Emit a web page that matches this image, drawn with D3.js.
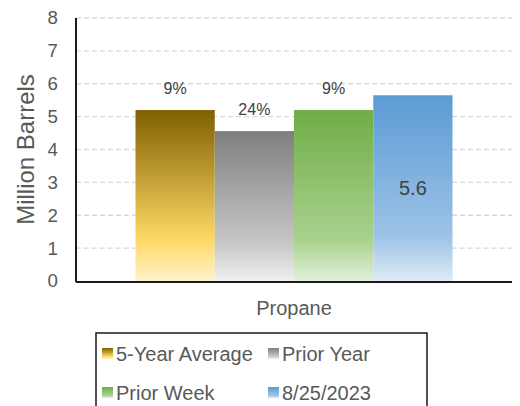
<!DOCTYPE html>
<html>
<head>
<meta charset="utf-8">
<script src="https://cdn.jsdelivr.net/npm/d3@7"></script>
<style>
  html, body { margin: 0; padding: 0; background: #fff; }
  svg { display: block; font-family: "Liberation Sans", Arial, sans-serif; }
</style>
</head>
<body>
<svg id="chart" width="520" height="406"></svg>
<script>
const categories = ["Propane"];
const seriesNames = ["5-Year Average", "Prior Year", "Prior Week", "8/25/2023"];
const seriesValues = [5.2, 4.56, 5.2, 5.65];
const barLabels = ["9%", "24%", "9%", "5.6"];
const yTicks = [0, 1, 2, 3, 4, 5, 6, 7, 8];
const yTitle = "Million Barrels";

const gradients = [
  [["0%", "#7F6000"], ["76%", "#FFD966"], ["100%", "#FFF2CC"]],
  [["0%", "#7F7F7F"], ["76%", "#C8C8C8"], ["100%", "#F0F0F0"]],
  [["0%", "#70AD47"], ["76%", "#A9D18E"], ["100%", "#E2F0D9"]],
  [["0%", "#5B9BD5"], ["76%", "#9DC3E6"], ["100%", "#DEEBF7"]]
];

const svg = d3.select("#chart");
const plotLeft = 76, plotRight = 512, plotTop = 18, plotBottom = 281;

const defs = svg.append("defs");
gradients.forEach((stops, i) => {
  const g = defs.append("linearGradient").attr("id", "grad" + i)
    .attr("x1", 0).attr("y1", 0).attr("x2", 0).attr("y2", 1);
  stops.forEach(s => g.append("stop").attr("offset", s[0]).attr("stop-color", s[1]));
});

const y = d3.scaleLinear().domain([0, 8]).range([plotBottom, plotTop]);
const x0 = d3.scaleBand().domain(categories).range([plotLeft, plotRight]).paddingInner(0).paddingOuter(0.1877);
const x1 = d3.scaleBand().domain(seriesNames).range([0, x0.bandwidth()]).padding(0);

// gridlines
svg.append("g").selectAll("line").data(yTicks.filter(d => d > 0)).join("line")
  .attr("x1", plotLeft).attr("x2", plotRight)
  .attr("y1", d => y(d)).attr("y2", d => y(d))
  .attr("stroke", "#D9D9D9").attr("stroke-width", 1.3).attr("stroke-dasharray", "5,3");

// y axis labels
const yAxis = d3.axisLeft(y).tickValues(yTicks).tickSize(0).tickPadding(18).tickFormat(d3.format("d"));
const ya = svg.append("g").attr("transform", `translate(${plotLeft},0)`).call(yAxis);
ya.select(".domain").remove();
ya.selectAll("text").attr("font-size", "18.7px").attr("fill", "#595959")
  .attr("font-family", "Liberation Sans, Arial, sans-serif");

// bars
const grp = svg.append("g").selectAll("g").data(categories).join("g")
  .attr("transform", d => `translate(${x0(d)},0)`);
grp.selectAll("rect").data(seriesNames.map((s, i) => ({s, i, v: seriesValues[i]}))).join("rect")
  .attr("x", d => x1(d.s)).attr("width", x1.bandwidth())
  .attr("y", d => y(d.v)).attr("height", d => plotBottom - y(d.v))
  .attr("fill", d => `url(#grad${d.i})`);

// data labels
grp.selectAll("text").data(seriesNames.map((s, i) => ({s, i, v: seriesValues[i], t: barLabels[i]}))).join("text")
  .attr("x", d => x1(d.s) + x1.bandwidth() / 2)
  .attr("y", d => d.i === 3 ? (y(d.v) + plotBottom) / 2 + 7 : y(d.v) - 16)
  .attr("text-anchor", "middle")
  .attr("font-size", d => d.i === 3 ? "20px" : "16px")
  .attr("fill", "#404040")
  .text(d => d.t);

// axis lines
svg.append("line").attr("x1", plotLeft).attr("x2", plotLeft).attr("y1", plotTop).attr("y2", plotBottom + 1)
  .attr("stroke", "#1a1a1a").attr("stroke-width", 2);
svg.append("line").attr("x1", plotLeft).attr("x2", plotRight).attr("y1", plotBottom + 1).attr("y2", plotBottom + 1)
  .attr("stroke", "#1a1a1a").attr("stroke-width", 2);

// category label
svg.append("g").selectAll("text").data(categories).join("text")
  .attr("x", d => x0(d) + x0.bandwidth() / 2).attr("y", 315)
  .attr("text-anchor", "middle").attr("font-size", "20px").attr("fill", "#595959")
  .text(d => d);

// y title
svg.append("text").attr("transform", `translate(34,${(plotTop + plotBottom) / 2}) rotate(-90)`)
  .attr("text-anchor", "middle").attr("font-size", "24px").attr("fill", "#595959")
  .text(yTitle);

// legend
svg.append("rect").attr("x", 96).attr("y", 333).attr("width", 331).attr("height", 100)
  .attr("fill", "none").attr("stroke", "#1a1a1a").attr("stroke-width", 1.5);
const legPos = [[102, 348], [268, 348], [102, 387], [268, 387]];
const leg = svg.append("g").selectAll("g").data(seriesNames).join("g")
  .attr("transform", (d, i) => `translate(${legPos[i][0]},${legPos[i][1]})`);
leg.append("rect").attr("width", 11).attr("height", 11).attr("fill", (d, i) => `url(#grad${i})`);
leg.append("text").attr("x", 14).attr("y", 13).attr("font-size", "20px").attr("fill", "#595959")
  .text(d => d);
</script>
</body>
</html>
